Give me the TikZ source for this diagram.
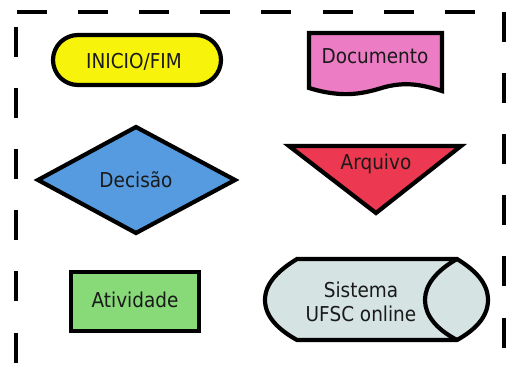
\documentclass[tikz,border=0pt]{standalone}
\usepackage{fontspec}
\setmainfont[FakeStretch=0.9]{DejaVu Sans}
\definecolor{cyellow}{RGB}{247,243,10}
\definecolor{cpink}{RGB}{236,124,196}
\definecolor{cblue}{RGB}{86,155,224}
\definecolor{cred}{RGB}{236,56,80}
\definecolor{cgreen}{RGB}{136,218,120}
\definecolor{cgrey}{RGB}{213,227,227}
\definecolor{ctext}{RGB}{26,26,26}
\begin{document}
\begin{tikzpicture}[x=1pt,y=-1pt,
  shapeline/.style={draw=black,line width=4.2pt,line join=miter},
  frame/.style={draw=black,line width=4pt,dash pattern=on 30pt off 31.1pt},
  lbl/.style={anchor=base,inner sep=0pt,text=ctext,font=\fontsize{20.5}{24}\selectfont}]
\useasboundingbox (0,0) rectangle (509,367);
% frame
\draw[frame] (17,11.5) -- (505,11.5);
\draw[frame] (503.5,12) -- (503.5,380);
\draw[frame] (16,27) -- (16,380);
% INICIO/FIM
\draw[shapeline,fill=cyellow,rounded corners=25pt] (53,35) rectangle (221,85);
\node[lbl] (inicio) at (134,68) {INICIO/FIM};
% Documento
\draw[shapeline,fill=cpink] (309,33) -- (442,33) -- (442,91)
  .. controls (420,84) and (405,82) .. (385,87)
  .. controls (365,93) and (345,99) .. (309,88) -- cycle;
\node[lbl] (doc) at (375,63) {Documento};
% Decisao
\draw[shapeline,fill=cblue] (38,180) -- (136,127) -- (235,180) -- (136,233) -- cycle;
\node[lbl] (dec) at (136,187.5) {Decisão};
% Arquivo
\draw[shapeline,fill=cred] (289,146) -- (461,146) -- (376,213) -- cycle;
\node[lbl] (arq) at (376,169) {Arquivo};
% Atividade
\draw[shapeline,fill=cgreen] (71,272) rectangle (199,331);
\node[lbl] (ativ) at (135,307.5) {Atividade};
% Sistema
\draw[shapeline,fill=cgrey] (297,259) -- (457,259)
  .. controls (475,270) and (488,283) .. (488,300)
  .. controls (488,317) and (475,330) .. (457,340)
  -- (297,340)
  .. controls (279,330) and (265,317) .. (265,300)
  .. controls (265,283) and (279,270) .. (297,259) -- cycle;
\draw[shapeline] (457,259) .. controls (436,271) and (425,285) .. (425,300)
  .. controls (425,315) and (436,329) .. (457,340);
\node[lbl] (sis1) at (361,297.5) {Sistema};
\node[lbl] (sis2) at (361,321.5) {UFSC online};
\end{tikzpicture}
\end{document}
